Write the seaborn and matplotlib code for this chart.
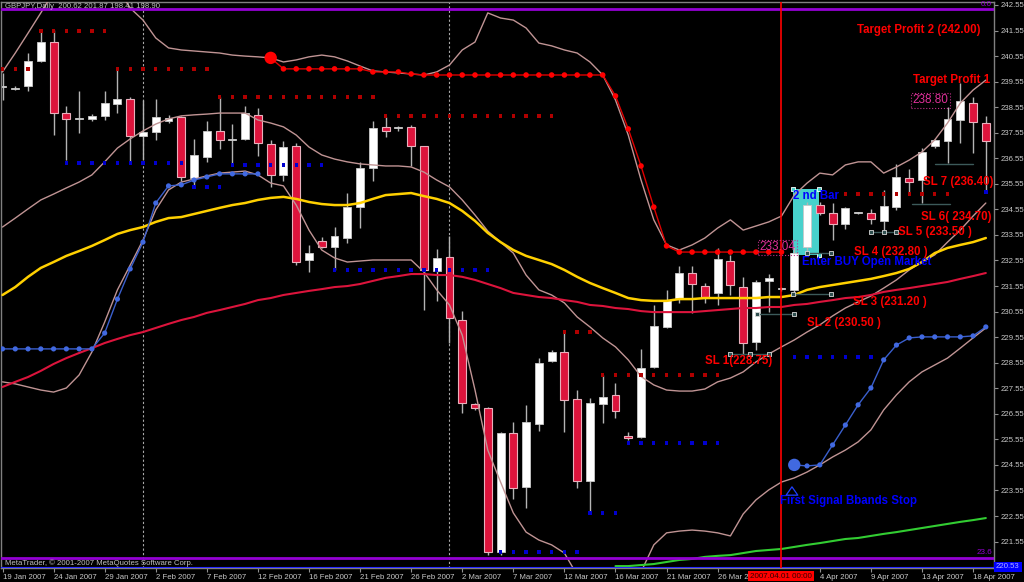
import numpy as np
import pandas as pd
import matplotlib
matplotlib.use("Agg")
import matplotlib.pyplot as plt
from matplotlib.patches import Rectangle
import seaborn as sns

# ------------------------------------------------------------------ data
tick_bars = [0, 4, 8, 12, 16, 20, 24, 28, 32, 36, 40, 44, 48, 52, 56, 64, 68, 72, 76]
tick_labels = ["19 Jan 2007", "24 Jan 2007", "29 Jan 2007", "2 Feb 2007", "7 Feb 2007",
               "12 Feb 2007", "16 Feb 2007", "21 Feb 2007", "26 Feb 2007", "2 Mar 2007",
               "7 Mar 2007", "12 Mar 2007", "16 Mar 2007", "21 Mar 2007", "26 Mar 2007",
               "4 Apr 2007", "9 Apr 2007", "13 Apr 2007", "18 Apr 2007"]
price_ticks = [242.55, 241.55, 240.55, 239.55, 238.55, 237.55, 236.55, 235.55, 234.55, 233.55,
               232.55, 231.55, 230.55, 229.55, 228.55, 227.55, 226.55, 225.55, 224.55, 223.55,
               222.55, 221.55]

open_ = [239.33, 239.28, 239.38, 240.36, 241.10, 238.32, 238.07, 238.09, 238.21, 238.68,
         238.87, 237.42, 237.58, 238.01, 238.17, 235.78, 236.60, 237.62, 237.25, 237.31,
         238.25, 237.11, 235.90, 237.03, 232.57, 233.31, 233.08, 233.43, 234.64, 236.17,
         237.78, 237.72, 237.78, 237.03, 232.14, 232.69, 230.22, 226.93, 226.78, 221.14,
         225.80, 223.69, 226.15, 228.62, 228.97, 227.13, 223.92, 226.93, 227.29, 225.68,
         225.64, 228.38, 229.95, 231.08, 232.06, 231.55, 231.28, 232.53, 231.51, 229.36,
         231.75, 231.42, 231.40, 233.08, 234.72, 234.41, 233.98, 234.40, 234.41, 234.10,
         234.64, 235.78, 235.70, 237.03, 237.23, 238.05, 238.72, 237.93]
high = [239.89, 239.38, 240.67, 241.53, 241.57, 238.60, 239.18, 238.28, 239.18, 240.05,
        238.95, 238.83, 238.87, 238.25, 238.21, 237.31, 238.01, 238.95, 237.89, 238.60,
        238.52, 237.27, 237.23, 237.15, 233.16, 233.47, 233.86, 235.19, 236.41, 238.01,
        238.17, 237.82, 237.85, 237.05, 233.00, 233.51, 230.57, 226.97, 226.82, 225.84,
        226.23, 226.90, 228.74, 229.05, 229.75, 227.48, 227.17, 228.07, 227.76, 225.84,
        229.09, 230.81, 231.40, 232.33, 232.33, 231.67, 233.04, 232.77, 231.91, 231.79,
        232.02, 231.51, 233.08, 234.84, 234.84, 234.80, 234.64, 234.45, 234.57, 235.31,
        236.33, 236.13, 236.95, 237.31, 238.56, 239.50, 238.95, 238.21]
low = [238.83, 239.22, 239.18, 240.32, 237.46, 236.48, 237.54, 238.01, 238.05, 238.32,
       236.41, 236.48, 237.27, 237.93, 235.66, 235.39, 236.41, 236.91, 236.29, 237.27,
       236.64, 235.43, 235.66, 232.37, 232.10, 233.04, 232.18, 233.24, 233.82, 235.66,
       237.38, 237.62, 236.25, 230.61, 230.97, 229.32, 226.58, 226.70, 221.02, 221.02,
       223.22, 222.86, 225.88, 228.58, 225.84, 223.65, 222.67, 226.19, 226.39, 225.53,
       225.60, 228.35, 229.91, 230.90, 230.50, 230.89, 230.81, 231.20, 228.85, 229.05,
       230.53, 231.36, 231.20, 232.88, 234.33, 233.35, 233.78, 234.37, 233.98, 233.74,
       234.53, 235.15, 234.80, 236.95, 236.37, 237.15, 236.76, 235.23]
close = [239.35, 239.30, 240.36, 241.10, 238.32, 238.09, 238.10, 238.21, 238.72, 238.87,
         237.42, 237.58, 238.17, 238.13, 235.82, 236.68, 237.62, 237.27, 237.28, 238.32,
         237.15, 235.90, 236.99, 232.49, 232.84, 233.08, 233.51, 234.64, 236.17, 237.74,
         237.62, 237.75, 237.03, 232.18, 232.65, 230.30, 226.97, 226.78, 221.14, 225.80,
         223.65, 226.23, 228.54, 228.97, 227.09, 223.92, 226.97, 227.21, 226.66, 225.60,
         228.35, 229.99, 231.00, 232.06, 231.63, 231.12, 232.61, 231.59, 229.32, 231.71,
         231.87, 231.46, 232.84, 234.72, 234.41, 233.98, 234.61, 234.42, 234.17, 234.68,
         235.82, 235.62, 236.80, 237.27, 238.09, 238.79, 237.97, 237.23]

upper_band = [239.93, 240.67, 241.45, 242.24, 243.06, 243.72, 244.12, 244.23, 243.92, 243.22,
              242.43, 241.96, 241.26, 240.87, 240.79, 240.75, 240.71, 240.67, 240.59, 240.55,
              240.52, 240.48, 240.32, 240.40, 240.52, 240.59, 240.52, 240.36, 240.16, 239.97,
              239.93, 239.89, 239.85, 239.81, 239.93, 240.20, 240.79, 241.10, 242.24, 242.04,
              241.96, 241.65, 241.06, 240.95, 240.79, 240.67, 240.32, 239.81, 238.83, 237.46,
              235.70, 234.14, 233.16, 232.96, 233.16, 233.43, 233.82, 234.14, 233.74, 233.90,
              234.06, 234.29, 235.11, 235.58, 235.97, 235.90, 236.29, 236.41, 236.41, 235.97,
              236.21, 236.48, 236.80, 237.27, 237.93, 238.71, 239.22, 239.61]
middle_band = [233.86, 234.21, 234.57, 234.92, 235.15, 235.39, 235.62, 235.90, 236.41, 236.95,
               237.31, 237.62, 237.89, 238.09, 238.21, 238.25, 238.28, 238.32, 238.32, 238.32,
               238.05, 237.93, 237.78, 237.46, 236.99, 236.68, 236.52, 236.41, 236.33, 236.29,
               236.25, 236.25, 236.21, 236.01, 235.70, 235.43, 234.92, 234.33, 233.70, 233.27,
               232.84, 231.98, 231.40, 231.20, 230.89, 230.34, 229.95, 229.52, 229.17, 228.66,
               228.01, 227.68, 227.48, 227.44, 227.44, 227.52, 227.80, 227.95, 228.19, 228.58,
               228.89, 229.17, 229.44, 229.75, 230.03, 230.38, 230.69, 230.93, 231.16, 231.47,
               231.79, 232.18, 232.49, 232.77, 233.27, 233.74, 234.29, 234.80]
lower_band = [227.80, 227.72, 227.60, 227.48, 227.40, 227.56, 228.07, 228.97, 230.14, 231.40,
              232.37, 233.35, 234.53, 235.31, 235.62, 235.74, 235.86, 235.97, 236.01, 236.05,
              235.90, 235.58, 235.47, 234.72, 233.74, 232.96, 232.65, 232.49, 232.53, 232.57,
              232.57, 232.57, 232.57, 232.10, 231.40, 230.81, 229.63, 227.48, 225.13, 223.88,
              222.67, 221.92, 221.61, 221.42, 221.10, 220.24, 219.65, 219.26, 219.26, 219.65,
              220.36, 221.42, 221.89, 221.96, 222.00, 221.96, 221.89, 221.77, 222.63, 223.18,
              223.57, 223.88, 224.04, 224.27, 224.55, 224.86, 225.13, 225.45, 225.92, 226.70,
              227.29, 227.80, 228.19, 228.46, 228.73, 229.12, 229.52, 229.91]
ma_yellow = [231.20, 231.51, 231.91, 232.26, 232.49, 232.73, 232.92, 233.12, 233.35, 233.59,
             233.74, 233.86, 234.06, 234.21, 234.25, 234.37, 234.49, 234.61, 234.72, 234.80,
             234.92, 235.00, 235.04, 234.96, 234.84, 234.76, 234.72, 234.72, 234.80, 234.96,
             235.11, 235.15, 235.19, 235.07, 234.96, 234.80, 234.49, 234.10, 233.63, 233.27,
             232.96, 232.73, 232.57, 232.41, 232.18, 231.91, 231.67, 231.47, 231.28, 231.08,
             231.00, 230.97, 230.97, 231.04, 231.04, 231.08, 231.08, 231.08, 231.08, 231.08,
             231.12, 231.12, 231.20, 231.40, 231.51, 231.59, 231.67, 231.75, 231.83, 231.94,
             232.06, 232.22, 232.49, 232.84, 233.04, 233.16, 233.27, 233.43]
ma_red = [227.60, 227.80, 227.99, 228.23, 228.50, 228.73, 228.93, 229.12, 229.32, 229.48,
          229.63, 229.75, 229.91, 230.07, 230.22, 230.34, 230.50, 230.61, 230.73, 230.85,
          231.00, 231.08, 231.20, 231.28, 231.36, 231.43, 231.51, 231.55, 231.63, 231.75,
          231.87, 231.94, 232.02, 232.02, 231.98, 231.98, 231.91, 231.79, 231.63, 231.47,
          231.28, 231.20, 231.12, 231.08, 231.00, 230.93, 230.81, 230.77, 230.69, 230.65,
          230.57, 230.53, 230.53, 230.53, 230.53, 230.57, 230.61, 230.65, 230.69, 230.69,
          230.73, 230.73, 230.81, 230.85, 230.93, 231.00, 231.08, 231.12, 231.20, 231.32,
          231.40, 231.47, 231.55, 231.63, 231.71, 231.83, 231.94, 232.06]
green_start = 48
ma_green = [220.59, 220.59, 220.63, 220.67, 220.75, 220.83, 220.87, 220.95, 220.99, 221.02,
            221.10, 221.18, 221.22, 221.26, 221.34, 221.42, 221.49, 221.57, 221.65, 221.69,
            221.77, 221.85, 221.92, 222.00, 222.08, 222.16, 222.24, 222.32, 222.39, 222.47]

blue_stop_a_start = 0
blue_stop_a = [229.09, 229.09, 229.09, 229.09, 229.09, 229.09, 229.09, 229.09, 229.71, 231.04,
               232.22, 233.27, 234.80, 235.47, 235.51, 235.70, 235.82, 235.94, 235.94, 235.94,
               235.94]
blue_stop_b_start = 62
blue_stop_b = [224.55, 224.51, 224.55, 225.33, 226.11, 226.90, 227.56, 228.66, 229.24, 229.52,
               229.56, 229.56, 229.56, 229.56, 229.60, 229.95]
red_stop_start = 21
red_stop = [240.48, 240.05, 240.05, 240.05, 240.05, 240.05, 240.05, 240.05, 239.93, 239.93,
            239.93, 239.85, 239.81, 239.81, 239.81, 239.81, 239.81, 239.81, 239.81, 239.81,
            239.81, 239.81, 239.81, 239.81, 239.81, 239.81, 239.81, 238.99, 237.70, 236.25,
            234.64, 233.12, 232.88, 232.88, 232.88, 232.88, 232.88, 232.88, 232.88, 232.88,
            232.88]

frac_hi_start = [0, 3, 9, 17, 30, 44, 47, 66]
frac_hi_end = [2, 8, 16, 29, 43, 46, 56, 74]
frac_hi_price = [240.05, 241.53, 240.05, 238.95, 238.21, 229.75, 228.07, 235.15]
frac_lo_start = [5, 15, 18, 26, 39, 46, 49, 62, 77]
frac_lo_end = [14, 17, 25, 38, 45, 48, 56, 68, 77]
frac_lo_price = [236.37, 235.43, 236.29, 232.18, 221.14, 222.67, 225.41, 228.77, 235.23]

sl_names = ["SL 1(228.75)", "SL 2 (230.50 )", "SL 3 (231.20 )", "SL 4 (232.80 )",
            "SL 5 (233.50 )", "SL 6( 234.70)", "SL 7 (236.40)"]
sl_line_price = [228.90, 230.45, 231.22, 232.85, 233.66, 234.76, 236.33]
sl_line_start = [57.0, 59.1, 61.9, 63.0, 68.0, 71.2, 73.0]
sl_line_end = [60.0, 62.0, 64.9, 64.9, 70.0, 74.2, 76.0]

fib_top, fib_bottom = 242.39, 220.91
last_price = 220.53

# ------------------------------------------------------------------ style
sns.set_theme(style="dark", rc={"axes.facecolor": "black", "figure.facecolor": "black",
                                "axes.grid": False})
plt.rcParams['font.family'] = ['Liberation Sans', 'DejaVu Sans']

fig = plt.figure(figsize=(10.24, 5.82), dpi=100)
fig.patch.set_facecolor("black")
ax = fig.add_axes([1 / 1024, 14 / 582, 993 / 1024, 566 / 582])
ax.set_facecolor("black")

bars = np.arange(len(open_))
o = np.array(open_); h = np.array(high); l = np.array(low); c = np.array(close)

# period separators
for sep in [11, 35]:
    ax.axvline(sep, color="#A8A8A8", lw=0.8, ls=(0, (2, 2)), zorder=1)

# 2nd bar highlight
ax.add_patch(Rectangle((61.9, 232.76), 2.05, 235.35 - 232.76, fc="#48D1CC", ec="none", zorder=1.5))
sns.scatterplot(x=[61.9, 63.95, 61.9, 63.95], y=[235.35, 235.35, 232.76, 232.76], marker="s",
                s=9, color="#48D1CC", edgecolor="white", linewidth=0.6, ax=ax, zorder=1.6)

# candles
ax.vlines(bars, l, h, color="#B4B4B4", lw=1, zorder=2)
bull = c >= o
bear = ~bull
ax.bar(bars[bull], np.maximum((c - o)[bull], 0.04), bottom=o[bull], width=0.62,
       color="white", edgecolor="#C8C8C8", linewidth=0.6, zorder=2.2)
ax.bar(bars[bear], np.maximum((o - c)[bear], 0.04), bottom=c[bear], width=0.62,
       color="#DC143C", edgecolor="#E8B0BC", linewidth=0.8, zorder=2.2)

# indicator lines
df = pd.DataFrame({"bar": bars, "upper": upper_band, "middle": middle_band, "lower": lower_band,
                   "yellow": ma_yellow, "red": ma_red})
pink = "#C09494"
for col, colr, lw in [("upper", pink, 1.0), ("middle", pink, 1.0), ("lower", pink, 1.0),
                      ("red", "#DC143C", 1.5), ("yellow", "#FFD000", 1.8)]:
    sns.lineplot(data=df, x="bar", y=col, color=colr, linewidth=lw, ax=ax, legend=False,
                 zorder=3)
gb = np.arange(green_start, green_start + len(ma_green))
sns.lineplot(x=gb, y=ma_green, color="#32CD32", linewidth=1.5, ax=ax, zorder=3)

# Bbands stop (blue)
for start, vals in [(blue_stop_a_start, blue_stop_a), (blue_stop_b_start, blue_stop_b)]:
    bx = np.arange(start, start + len(vals))
    sns.lineplot(x=bx, y=vals, color="#3A5FCD", linewidth=1.0, ax=ax, zorder=3.5)
    sns.scatterplot(x=bx, y=vals, s=14, color="#4169E1", edgecolor="none", ax=ax, zorder=3.6)
sns.scatterplot(x=[blue_stop_b_start], y=[blue_stop_b[0]], s=80, color="#4169E1",
                edgecolor="none", ax=ax, zorder=3.7)

# Bbands stop (red)
rx = np.arange(red_stop_start, red_stop_start + len(red_stop))
sns.lineplot(x=rx, y=red_stop, color="#E00000", linewidth=1.0, ax=ax, zorder=3.5)
sns.scatterplot(x=rx, y=red_stop, s=16, color="#FF0000", edgecolor="none", ax=ax, zorder=3.6)
sns.scatterplot(x=[red_stop_start], y=[red_stop[0]], s=80, color="#FF0000",
                edgecolor="none", ax=ax, zorder=3.7)

# fractal levels
for s0, s1, p in zip(frac_hi_start, frac_hi_end, frac_hi_price):
    fx = np.arange(s0, s1 + 1)
    sns.scatterplot(x=fx, y=[p] * len(fx), marker="s", s=6, color="#B00000",
                    edgecolor="none", ax=ax, zorder=3.4)
for s0, s1, p in zip(frac_lo_start, frac_lo_end, frac_lo_price):
    fx = np.arange(s0, s1 + 1)
    sns.scatterplot(x=fx, y=[p] * len(fx), marker="s", s=6, color="#0000D0",
                    edgecolor="none", ax=ax, zorder=3.4)

# stop-loss lines
slc = "#3C5A5A"
for k, (s0, s1, p) in enumerate(zip(sl_line_start, sl_line_end, sl_line_price)):
    ax.plot([s0, s1], [p, p], color=slc, lw=1.0, zorder=3.8)
    if k < 5:
        mk = [s0, s1] if k not in (0, 4) else [s0, (s0 + s1) / 2, s1]
        sns.scatterplot(x=mk, y=[p] * len(mk), marker="s", s=10, color="#2F4F4F",
                        edgecolor="#D8D8D8", linewidth=0.6, ax=ax, zorder=3.9)

# horizontal lines
ax.axhline(fib_top, color="#9400D3", lw=2, zorder=4)
ax.axhline(fib_bottom, color="#9400D3", lw=2, zorder=4)
ax.axhline(last_price, color="#2828FF", lw=1.5, zorder=4)
ax.axvline(60.95, color="#FF0000", lw=1.2, zorder=4)

# annotations
red = "#FF0000"
blue = "#0000FF"
fs = 8.3
ann = [("Target Profit 2 (242.00)", 66.91, 241.57, red),
       ("Target Profit 1", 71.30, 239.61, red),
       (sl_names[6], 72.08, 235.62, red),
       (sl_names[5], 71.93, 234.25, red),
       (sl_names[4], 70.12, 233.67, red),
       (sl_names[3], 66.68, 232.88, red),
       (sl_names[2], 66.60, 230.93, red),
       (sl_names[1], 63.00, 230.10, red),
       (sl_names[0], 55.01, 228.62, red),
       ("2 nd Bar", 61.90, 235.08, blue),
       ("Enter BUY Open Market", 62.61, 232.49, blue),
       ("First Signal Bbands Stop", 60.88, 223.14, blue)]
for t, x, y, col in ann:
    ax.text(x, y, t, color=col, fontsize=fs, fontweight="bold", ha="left", va="center",
            zorder=6, clip_on=True)
# hollow up arrow above "First Signal" text
ax.annotate("", xy=(61.82, 223.80), xytext=(61.82, 223.30),
            arrowprops=dict(arrowstyle="simple,head_width=0.7,head_length=0.5,tail_width=0.3",
                            fc="black", ec="#2040FF", lw=0.9), zorder=6)
for t, x, y in [("233.04", 59.3, 233.06), ("238.80", 71.25, 238.82)]:
    ax.text(x, y, t, color="#E0309A", fontsize=8.5, ha="left", va="center", zorder=6,
            bbox=dict(boxstyle="square,pad=0.12", fc="none", ec="#C0308A", ls=":", lw=0.8))

# axes and ticks
ax.set_xlim(-0.1175, 77.64)
ax.set_ylim(220.515, 242.667)
ax.set_xlabel("")
ax.set_ylabel("")
ax.yaxis.tick_right()
ax.set_yticks(price_ticks)
ax.set_yticklabels([f"{v:.2f}" for v in price_ticks])
ax.set_xticks(tick_bars)
ax.set_xticklabels(tick_labels)
for lab in ax.get_xticklabels():
    lab.set_ha("left")
ax.tick_params(axis="both", which="both", colors="#909090", labelcolor="#C8C8C8",
               labelsize=5.6, length=3, width=0.8, pad=1.5, direction="out",
               bottom=True, right=True, left=False, top=False)
for sp in ax.spines.values():
    sp.set_color("#808080")
    sp.set_linewidth(1)
ax.grid(False)

# figure-level texts
W, H = 1024, 582
fig.text(5 / W, 1 - 7 / H, "GBPJPY,Daily  200.62 201.87 198.41 198.90", color="#C0C0C0",
         fontsize=5.6, va="center", ha="left", zorder=7)
fig.text(5 / W, 1 - 563 / H, "MetaTrader, \u00a9 2001-2007 MetaQuotes Software Corp.",
         color="#C0C0C0", fontsize=5.6, va="center", ha="left", zorder=7)
fig.text(992 / W, 1 - 5 / H, "0.0", color="#9400D3", fontsize=5.8, ha="right", va="center")
fig.text(992 / W, 1 - 553 / H, "23.6", color="#9400D3", fontsize=5.8, ha="right", va="center")
fig.text(996 / W, 1 - 567 / H, "220.53", color="#B0B0FF", fontsize=5.6, ha="left", va="center",
         bbox=dict(boxstyle="square,pad=0.25", fc="#0000FF", ec="none"))
fig.text(781 / W, 1 - 576 / H, "2007.04.01 00:00", color="#300000", fontsize=5.8, ha="center",
         va="center", bbox=dict(boxstyle="square,pad=0.2", fc="#FF0000", ec="none"))

fig.savefig("out.png", dpi=100, facecolor="black")
